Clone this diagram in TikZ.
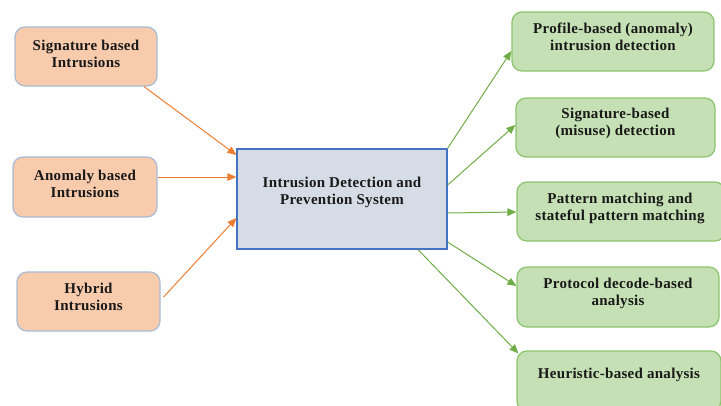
\documentclass[tikz,border=0pt]{standalone}
\usepackage{fontspec}
\setmainfont[LetterSpace=2]{Liberation Serif}
\usetikzlibrary{arrows.meta}
\definecolor{oFill}{HTML}{F8CBAD}
\definecolor{oLine}{HTML}{A9BBD3}
\definecolor{cFill}{HTML}{D6DCE5}
\definecolor{cLine}{HTML}{4472C4}
\definecolor{gFill}{HTML}{C5E0B4}
\definecolor{gLine}{HTML}{8CC46E}
\definecolor{oArr}{HTML}{ED7D31}
\definecolor{gArr}{HTML}{70AD47}
\tikzset{
  base/.style={rectangle, inner sep=0pt, line width=1.2pt},
  obox/.style={base, rounded corners=10pt, fill=oFill, draw=oLine},
  gbox/.style={base, rounded corners=10pt, fill=gFill, draw=gLine},
  cbox/.style={base, fill=cFill, draw=cLine},
  txt/.style={font=\fontsize{15}{17}\selectfont\bfseries, align=center, text=black!90},
  oarr/.style={draw=oArr, line width=1pt, -{Triangle[length=9pt,width=7.5pt]}},
  garr/.style={draw=gArr, line width=1pt, -{Triangle[length=9pt,width=7.5pt]}},
}
\begin{document}
\begin{tikzpicture}[x=1pt,y=-1pt]
\useasboundingbox (0,0) rectangle (721,405);
% left boxes
\node[obox, minimum width=142pt, minimum height=59pt,
  label={[txt,yshift=3pt]center:Signature based\\Intrusions}] (sig) at (86,56.5) {};
\node[obox, minimum width=144pt, minimum height=60pt,
  label={[txt,yshift=3pt]center:Anomaly based\\Intrusions}] (anom) at (85,187) {};
\node[obox, minimum width=143pt, minimum height=59pt,
  label={[txt,yshift=5pt]center:Hybrid\\Intrusions}] (hyb) at (88.5,301.5) {};
% center
\node[cbox, minimum width=210pt, minimum height=100pt,
  label={[txt,yshift=7pt]center:Intrusion Detection and\\Prevention System}] (ids) at (342,199) {};
% right boxes
\node[gbox, minimum width=202pt, minimum height=59pt,
  label={[txt,yshift=5pt]center:Profile-based (anomaly)\\intrusion detection}] (prof) at (613,41.5) {};
\node[gbox, minimum width=199pt, minimum height=59pt,
  label={[txt,yshift=4pt]center:Signature-based\\(misuse) detection}] (sigb) at (615.5,127.5) {};
\node[gbox, minimum width=208pt, minimum height=59pt,
  label={[txt,yshift=3pt,xshift=-1pt]center:Pattern matching and\\stateful pattern matching}] (pat) at (621,211.5) {};
\node[gbox, minimum width=202pt, minimum height=60pt,
  label={[txt,yshift=4pt]center:Protocol decode-based\\analysis}] (prot) at (618,297) {};
\node[gbox, minimum width=204pt, minimum height=60pt,
  label={[txt,yshift=6pt]center:Heuristic-based analysis}] (heur) at (619,381) {};
% orange arrows
\draw[oarr] ([xshift=58pt]sig.south) -- ([yshift=44pt]ids.west);
\draw[oarr] ([yshift=10pt]anom.east) -- ([yshift=22pt]ids.west);
\draw[oarr] ([xshift=3pt,yshift=4.5pt]hyb.east) -- ([yshift=-19pt]ids.west);
% green arrows
\draw[garr] (ids.north east) -- ([yshift=-9.5pt]prof.west);
\draw[garr] ([yshift=14pt]ids.east) -- ([yshift=2.5pt]sigb.west);
\draw[garr] ([yshift=-14pt]ids.east) -- ([yshift=-0.5pt]pat.west);
\draw[garr] ([yshift=-43pt]ids.east) -- ([yshift=11pt]prot.west);
\draw[garr] ([xshift=76pt]ids.south) -- ([xshift=2pt,yshift=-3pt]heur.north west);
\end{tikzpicture}
\end{document}
